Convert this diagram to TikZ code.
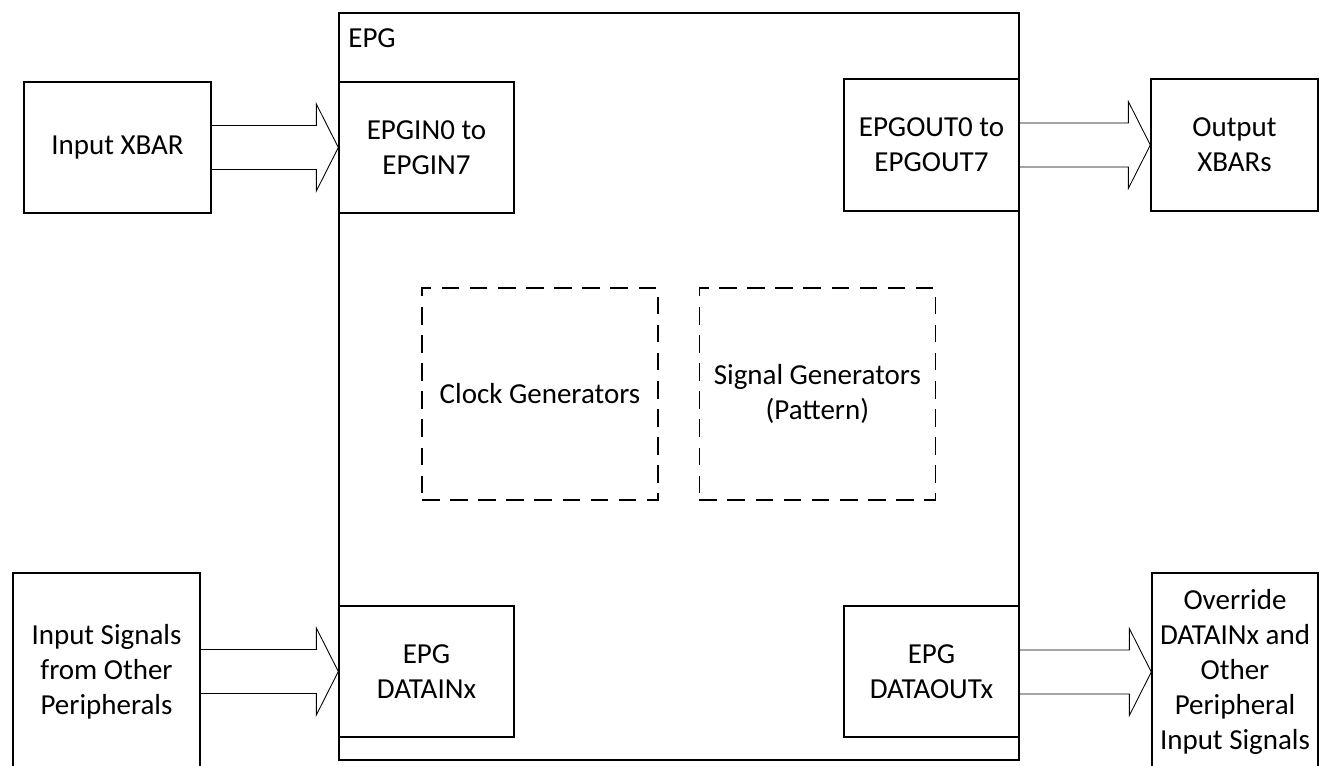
\documentclass[tikz,border=0pt]{standalone}
\usepackage{fontspec}
\setmainfont{Carlito}
\usetikzlibrary{calc,positioning}

\begin{document}
\begin{tikzpicture}[
  x=0.02cm, y=-0.02cm,
  font=\fontsize{16.5}{20}\selectfont,
  blk/.style={draw, line width=0.8pt, align=center, inner sep=2pt,
    minimum width=3.5cm, minimum height=2.62cm},
  gen/.style={draw, line width=0.8pt, dash pattern=on 10pt off 6pt,
    align=center, minimum width=4.72cm, minimum height=4.24cm},
  fat/.style={draw, line width=0.5pt, line join=miter},
]
\useasboundingbox (0,0) rectangle (1328,765);

% EPG module
\node[draw, line width=0.8pt, minimum width=13.6cm, minimum height=14.94cm] (epg) at (679,386.5) {};
\node[anchor=base west, inner sep=0pt] (epglbl) at (348,47) {EPG};

\node[blk] (epgin)   at (426.5,147.5) {EPGIN0 to\\EPGIN7};
\node[blk, minimum height=2.64cm] (epgout) at (931.5,145) {EPGOUT0 to\\EPGOUT7};
\node[blk] (datain)  at (426.5,671.5) {EPG\\DATAINx};
\node[blk] (dataout) at (931.5,671.5) {EPG\\DATAOUTx};

\node[gen] (clkgen) at (540,394) {Clock Generators};
\node[gen, right=0.8cm of clkgen] (siggen) {Signal Generators\\(Pattern)};

% outside blocks
\node[blk, minimum width=3.74cm] (inxbar) at (117.5,147.5) {Input XBAR};
\node[blk, minimum width=3.34cm, minimum height=2.64cm] (outxbar) at (1234.5,145) {Output\\XBARs};
\node[blk, minimum width=3.74cm, minimum height=3.96cm] (insig) at (106.5,672) {Input Signals\\from Other\\Peripherals};
\node[blk, minimum width=3.32cm, minimum height=3.96cm] (override) at (1235,672) {Override\\DATAINx and\\Other\\Peripheral\\Input Signals};

% wide arrows
\foreach \src/\dst in {inxbar/epgin, epgout/outxbar, insig/datain, dataout/override}
  \draw[fat] ($(\src.east |- \dst.west)+(0,-22)$) -- ($(\dst.west)+(-22,-22)$)
    -- ++(0,-21.5) -- (\dst.west) -- ($(\dst.west)+(-22,43.5)$)
    -- ++(0,-21.5) -- ($(\src.east |- \dst.west)+(0,22)$);
\end{tikzpicture}
\end{document}
